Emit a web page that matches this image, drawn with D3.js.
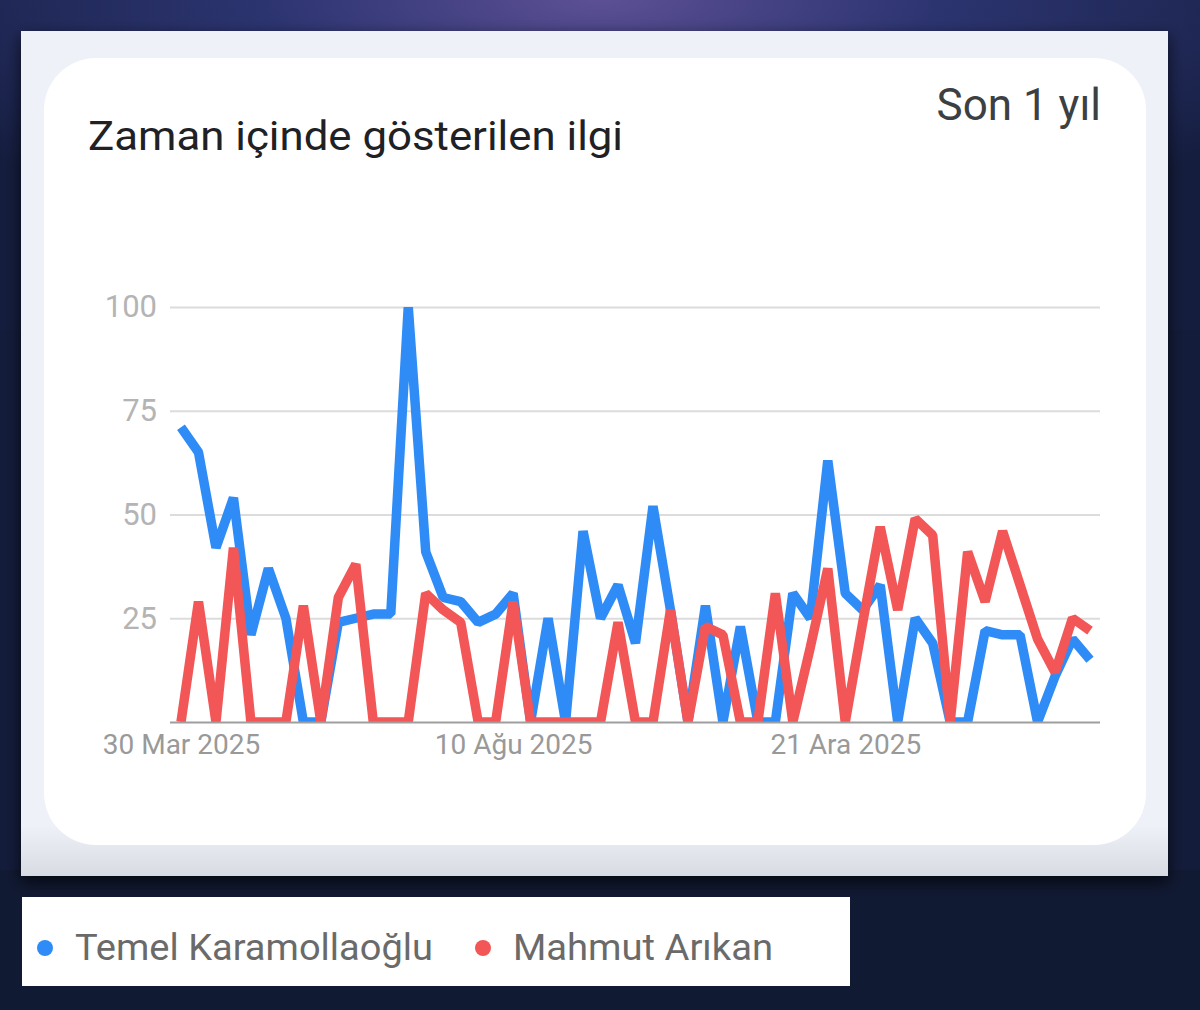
<!DOCTYPE html>
<html>
<head>
<meta charset="utf-8">
<script src="https://cdn.jsdelivr.net/npm/d3@7"></script>
<style>
  body { margin: 0; background: #141d3a; }
  svg { display: block; }
</style>
</head>
<body>
<script>
// size of the page / picture
const width = 1200;
const height = 1010;

// weekly series, first week 30 Mar 2025 (53 weeks)
const startDate = new Date(2025, 2, 30);
const seriesNames = ["Temel Karamollaoğlu", "Mahmut Arıkan"];
const temelValues = [71, 65, 42, 54, 21, 37, 25, 0, 0, 24, 25, 26, 26, 100, 41, 30, 29, 24, 26, 31,
  0, 25, 0, 46, 25, 33, 19, 52, 27, 0, 28, 0, 23, 0, 0, 31, 25, 63, 31, 27,
  33, 0, 25, 19, 0, 0, 22, 21, 21, 0, 11, 20, 15];
const mahmutValues = [0, 29, 0, 42, 0, 0, 0, 28, 0, 30, 38, 0, 0, 0, 31, 27, 24, 0, 0, 29,
  0, 0, 0, 0, 0, 24, 0, 0, 27, 0, 23, 21, 0, 0, 31, 0, 18, 37, 0, 24,
  47, 27, 49, 45, 0, 41, 29, 46, 33, 20, 12, 25, 22];

// axis ticks
const yTicks = [25, 50, 75, 100];
const xTickDates = [new Date(2025, 2, 30), new Date(2025, 7, 10), new Date(2025, 11, 21)];
const xTickLabels = ["30 Mar 2025", "10 Ağu 2025", "21 Ara 2025"];

const colors = ["#2f8cf6", "#f25656"];

var weeks = temelValues.map((v, i) => d3.timeWeek.offset(startDate, i));

var svg = d3.select("body").append("svg")
  .attr("width", width)
  .attr("height", height);

var defs = svg.append("defs");

// dark background with a purple glow at the top
var bg = defs.append("radialGradient").attr("id", "glow")
  .attr("cx", 0.5).attr("cy", 0).attr("r", 0.7);
bg.append("stop").attr("offset", "0%").attr("stop-color", "#5d5095");
bg.append("stop").attr("offset", "40%").attr("stop-color", "#2c3470");
bg.append("stop").attr("offset", "100%").attr("stop-color", "#141d3d");

svg.append("rect").attr("width", width).attr("height", height).attr("fill", "#131c3a");
svg.append("rect").attr("width", width).attr("height", 330).attr("fill", "url(#glow)");
svg.append("rect").attr("y", 870).attr("width", width).attr("height", 140).attr("fill", "#111a33");

var shadow = defs.append("filter").attr("id", "shadow")
  .attr("x", -0.05).attr("y", -0.05).attr("width", 1.1).attr("height", 1.15);
shadow.append("feDropShadow").attr("dx", 0).attr("dy", 6).attr("stdDeviation", 8)
  .attr("flood-color", "#000").attr("flood-opacity", 0.7);

// soft grey shading at the bottom of the panel
var fade = defs.append("linearGradient").attr("id", "fade")
  .attr("x1", 0).attr("y1", 0).attr("x2", 0).attr("y2", 1);
fade.append("stop").attr("offset", "0%").attr("stop-color", "#eef1f8");
fade.append("stop").attr("offset", "94%").attr("stop-color", "#eef1f8");
fade.append("stop").attr("offset", "100%").attr("stop-color", "#d9dbe2");

// screenshot panel + card
svg.append("rect")
  .attr("x", 21).attr("y", 31).attr("width", 1147).attr("height", 845)
  .attr("fill", "url(#fade)")
  .attr("filter", "url(#shadow)");

svg.append("rect")
  .attr("x", 44).attr("y", 58).attr("width", 1102).attr("height", 787)
  .attr("rx", 52)
  .attr("fill", "#ffffff");

svg.append("text")
  .attr("x", 88).attr("y", 150)
  .attr("font-family", "Roboto, 'Open Sans', sans-serif")
  .attr("font-size", 40)
  .attr("fill", "#202124")
  .attr("textLength", 535)
  .attr("lengthAdjust", "spacingAndGlyphs")
  .text("Zaman içinde gösterilen ilgi");

svg.append("text")
  .attr("x", 1101).attr("y", 120)
  .attr("text-anchor", "end")
  .attr("font-family", "Roboto, 'Open Sans', sans-serif")
  .attr("font-size", 44)
  .attr("fill", "#3c4043")
  .text("Son 1 yıl");

// scales
var x = d3.scaleTime()
  .domain([weeks[0], weeks[weeks.length - 1]])
  .range([181, 1090]);

var y = d3.scaleLinear()
  .domain([0, 100])
  .range([722, 307]);

// y axis with gridlines
var yAxis = svg.append("g")
  .attr("transform", "translate(170,0)")
  .call(d3.axisLeft(y).tickValues(yTicks).tickSize(-930).tickPadding(13));
yAxis.select(".domain").remove();
yAxis.selectAll("line").attr("stroke", "#dcdcdc").attr("stroke-width", 2);
yAxis.selectAll("text")
  .attr("font-family", "Roboto, sans-serif")
  .attr("font-size", 31)
  .attr("fill", "#b4b4b4");

// x axis
var xAxis = svg.append("g")
  .attr("transform", "translate(0,722)")
  .call(d3.axisBottom(x).tickValues(xTickDates)
    .tickFormat((d, i) => xTickLabels[i]).tickSize(0).tickPadding(12));
xAxis.select(".domain").remove();
xAxis.selectAll("text")
  .attr("font-family", "Roboto, sans-serif")
  .attr("font-size", 28)
  .attr("fill", "#999999");

// lines, clipped to the plot area
defs.append("clipPath").attr("id", "plot")
  .append("rect").attr("x", 160).attr("y", 307).attr("width", 950).attr("height", 415);

var line = d3.line()
  .x((d, i) => x(weeks[i]))
  .y(d => y(d));

var plot = svg.append("g").attr("clip-path", "url(#plot)");
[temelValues, mahmutValues].forEach(function (vals, k) {
  plot.append("path")
    .datum(vals)
    .attr("d", line)
    .attr("fill", "none")
    .attr("stroke", colors[k])
    .attr("stroke-width", 9.5)
    .attr("stroke-linejoin", "bevel");
});

// baseline
svg.append("line")
  .attr("x1", 170).attr("x2", 1100)
  .attr("y1", 722.5).attr("y2", 722.5)
  .attr("stroke", "#9e9e9e")
  .attr("stroke-width", 2);

// legend box
svg.append("rect")
  .attr("x", 22).attr("y", 897).attr("width", 828).attr("height", 89)
  .attr("fill", "#ffffff");

var legendX = [45, 483];
var legendW = [358, 260];
seriesNames.forEach(function (name, k) {
  svg.append("circle")
    .attr("cx", legendX[k]).attr("cy", 948).attr("r", 8)
    .attr("fill", colors[k]);
  svg.append("text")
    .attr("x", legendX[k] + 30).attr("y", 960)
    .attr("font-family", "Roboto, sans-serif")
    .attr("font-size", 37)
    .attr("fill", "#6a6a6a")
    .attr("textLength", legendW[k])
    .attr("lengthAdjust", "spacingAndGlyphs")
    .text(name);
});
</script>
</body>
</html>
